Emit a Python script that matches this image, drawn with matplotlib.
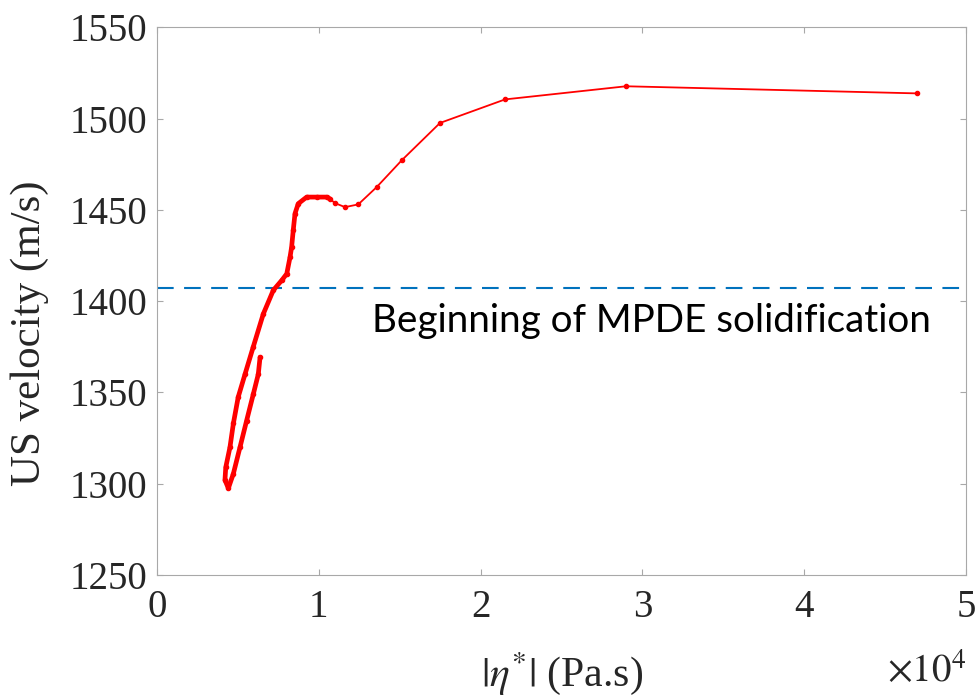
import matplotlib
matplotlib.use("Agg")
import matplotlib.pyplot as plt
from matplotlib.ticker import FixedLocator, FixedFormatter

# |eta*| values in units of 1e4 Pa.s
eta_1e4 = [0.637, 0.626, 0.595, 0.554, 0.513, 0.472, 0.441, 0.420, 0.425, 0.451,
           0.472, 0.502, 0.544, 0.595, 0.657, 0.719, 0.771, 0.802, 0.822, 0.832,
           0.842, 0.853, 0.873, 0.925, 0.987, 1.049, 1.069, 1.100, 1.162, 1.244,
           1.358, 1.512, 1.749, 2.151, 2.899, 4.697]
us_velocity = [1369.3, 1360, 1349, 1334.6, 1320, 1305.5, 1297.5, 1302, 1309, 1320,
               1333, 1347.5, 1360, 1375, 1393, 1406, 1411.4, 1415, 1424, 1429.6,
               1438.8, 1448, 1453.4, 1457, 1457, 1457, 1456, 1453.7, 1451.5, 1453,
               1462.5, 1477.1, 1497.6, 1510.5, 1517.7, 1513.8]
n_dense = 27  # densely sampled part of the record (drawn thicker)

solidification_level = 1407
annotation = "Beginning of MPDE solidification"

xticks = [0, 1, 2, 3, 4, 5]
xtick_labels = ["0", "1", "2", "3", "4", "5"]
yticks = [1250, 1300, 1350, 1400, 1450, 1500, 1550]
ytick_labels = ["1250", "1300", "1350", "1400", "1450", "1500", "1550"]

plt.rcParams['mathtext.fontset'] = 'stix'
serif = ['Liberation Serif', 'DejaVu Serif']

fig = plt.figure(figsize=(9.77, 6.98), dpi=100)
ax = fig.add_axes([157/977, 1 - 575/698, (966-157)/977, (575-27.3)/698])

red = '#FF0000'
ax.plot(eta_1e4, us_velocity, color=red, lw=1.3, marker='.', ms=6,
        solid_joinstyle='round', zorder=3)
ax.plot(eta_1e4[:n_dense], us_velocity[:n_dense], color=red, lw=3.4,
        solid_joinstyle='round', solid_capstyle='round', zorder=3)

ax.axhline(solidification_level, color='#0072BD', lw=1.5, dashes=(8, 5), zorder=2)
ax.text(1.329, 1383, annotation, family=['Lato', 'DejaVu Sans'], fontsize=27.8,
        color='#000000', ha='left', va='baseline')

ax.set_xlim(0, 5)
ax.set_ylim(1250, 1550)
ax.xaxis.set_major_locator(FixedLocator(xticks))
ax.xaxis.set_major_formatter(FixedFormatter(xtick_labels))
ax.yaxis.set_major_locator(FixedLocator(yticks))
ax.yaxis.set_major_formatter(FixedFormatter(ytick_labels))

spine_c = '#a8a8a8'
for s in ax.spines.values():
    s.set_color(spine_c)
    s.set_linewidth(0.8)
ax.tick_params(direction='in', length=4.5, width=0.8, color=spine_c,
               top=True, right=True, labelsize=28, labelcolor='#262626')
ax.tick_params(axis='x', pad=10)
ax.tick_params(axis='y', pad=7)
for lab in ax.get_xticklabels() + ax.get_yticklabels():
    lab.set_family(serif)

fig.text(30/977, 1 - 333/698, "US velocity (m/s)", rotation=90, ha='center',
         va='center', family=serif, fontsize=31, color='#262626')
fig.text(562.5/977, 1 - 686/698, r"$|\eta^{*}|$ (Pa.s)", ha='center', va='baseline',
         family=serif, fontsize=30, color='#262626')
fig.text(966/977, 1 - 682/698, r"$\times10^{4}$", ha='right', va='baseline',
         fontsize=28, color='#262626')

fig.savefig("out.png", dpi=100)
